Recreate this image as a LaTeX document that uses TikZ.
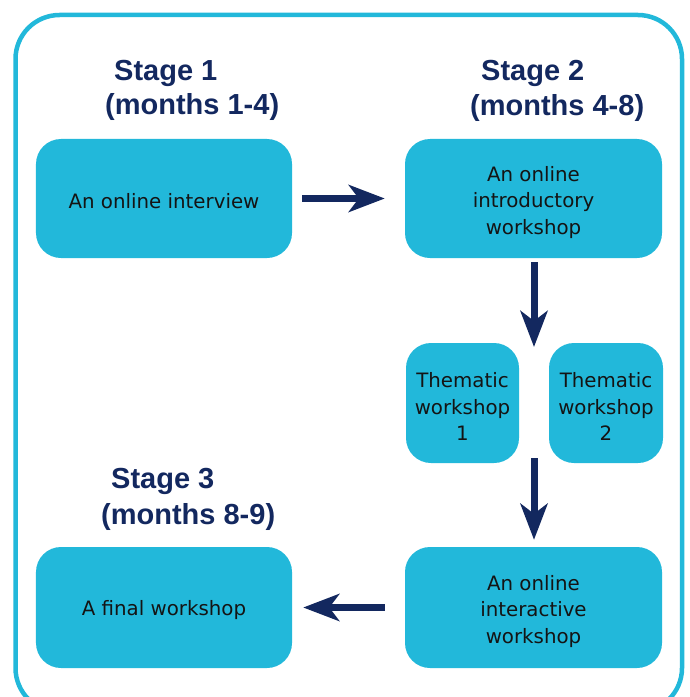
\documentclass[tikz,border=0pt]{standalone}
\usepackage{fontspec}
\setmainfont{DejaVu Sans}
\newfontfamily\headfont{Liberation Sans}
\usetikzlibrary{arrows.meta}
\definecolor{cyanbox}{HTML}{22B8DA}
\definecolor{navy}{HTML}{13285F}
\newcommand{\lowerby}[1]{\rule{0pt}{#1}}
\begin{document}
\begin{tikzpicture}[x=1bp,y=-1bp,
  box/.style={fill=cyanbox, rounded corners=25bp, inner sep=0pt, align=center,
    font=\fontsize{19.8bp}{26.8bp}\selectfont, text=black!92},
  stagelbl/.style={anchor=base west, inner sep=0pt, text=navy,
    font=\headfont\bfseries\fontsize{29bp}{32bp}\selectfont},
  arr/.style={draw=navy, line width=7bp, -{Stealth[length=36bp,width=27bp,inset=10bp]}}]
\useasboundingbox (0,0) rectangle (690,697);
\clip (0,0) rectangle (690,697);
\draw[cyanbox, line width=4.5bp, rounded corners=44bp] (15.5,15) rectangle (682,712);

\node[box, minimum width=256bp, minimum height=119bp] (b1) at (164,198.5) {\lowerby{20bp}An online interview};
\node[box, minimum width=257bp, minimum height=119bp] (b2) at (533.5,198.5) {\lowerby{23bp}An online\\introductory\\workshop};
\node[box, minimum width=113bp, minimum height=120bp] (t1) at (462.5,403) {\lowerby{22bp}Thematic\\workshop\\1};
\node[box, minimum width=114bp, minimum height=120bp] (t2) at (606,403) {\lowerby{22bp}Thematic\\workshop\\2};
\node[box, minimum width=257bp, minimum height=121bp] (b3) at (533.5,607.5) {\lowerby{23bp}An online\\interactive\\workshop};
\node[box, minimum width=256bp, minimum height=121bp] (b4) at (164,607.5) {\lowerby{20bp}A final workshop};

\coordinate (gap) at (534,403);

\node[stagelbl] (s1a) at (114,81) {Stage 1};
\node[stagelbl] (s1b) at (105,115) {(months 1-4)};
\node[stagelbl] (s2a) at (481,81) {Stage 2};
\node[stagelbl] (s2b) at (470,116) {(months 4-8)};
\node[stagelbl] (s3a) at (111,488) {Stage 3};
\node[stagelbl] (s3b) at (101,524) {(months 8-9)};

\draw[arr, shorten <=10bp, shorten >=20bp] (b1.east) -- (b2.west);
\draw[arr, shorten <=4bp, shorten >=56bp] (b2.south -| gap) -- (gap);
\draw[arr, shorten <=55bp, shorten >=7bp] (gap) -- (b3.north -| gap);
\draw[arr, shorten <=20bp, shorten >=11bp] (b3.west) -- (b4.east);
\end{tikzpicture}
\end{document}
